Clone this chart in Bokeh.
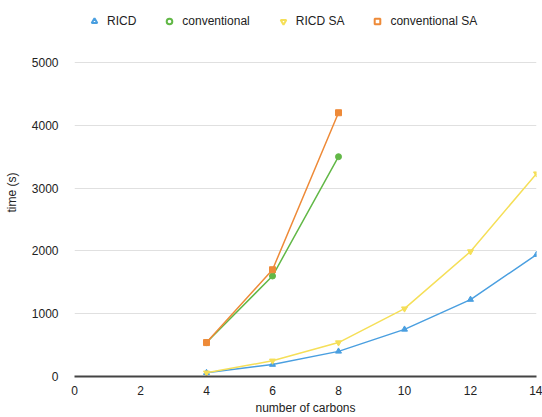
from bokeh.plotting import figure
from bokeh.models import Legend, LegendItem, Range1d, FixedTicker, ColumnDataSource
from bokeh.embed import file_html
from bokeh.resources import INLINE

carbons_ricd = [4, 6, 8, 10, 12, 14]
ricd = [60, 190, 400, 750, 1225, 1940]
ricd_sa = [60, 250, 540, 1080, 1990, 3230]
carbons_conv = [4, 6, 8]
conventional = [540, 1600, 3500]
conventional_sa = [540, 1700, 4200]

x_ticks = [0, 2, 4, 6, 8, 10, 12, 14]
y_ticks = [0, 1000, 2000, 3000, 4000, 5000]

FONT = "Liberation Sans"

W, H = 542, 417
LEFT, RIGHT, TOP, BOTTOM = 74, 6, 8, 41
# frame extends above the 5000 line so the legend row fits inside it
y_top_px = 62 - TOP          # pixels between frame top and the 5000 gridline
span_px = (H - BOTTOM) - 62  # pixels between 0 and 5000
y_end = 5000 + 5000 * y_top_px / span_px

p = figure(width=W, height=H, output_backend="svg", toolbar_location=None,
           x_range=Range1d(0, 14), y_range=Range1d(0, y_end),
           min_border_left=LEFT, min_border_right=RIGHT, min_border_top=TOP,
           min_border_bottom=BOTTOM)
p.outline_line_color = None
p.background_fill_color = "white"
p.border_fill_color = "white"

series = [
    ("RICD", carbons_ricd, ricd, "#4a9fe0", "triangle"),
    ("conventional", carbons_conv, conventional, "#62b847", "circle"),
    ("RICD SA", carbons_ricd, ricd_sa, "#f5df58", "inverted_triangle"),
    ("conventional SA", carbons_conv, conventional_sa, "#ee8a38", "square"),
]

items = []
for name, xs, ys, color, marker in series:
    src = ColumnDataSource(dict(x=xs, y=ys))
    p.line("x", "y", source=src, line_color=color, line_width=1.5)
    p.scatter("x", "y", source=src, marker=marker, size=6, fill_color=color, line_color=color)
    dsrc = ColumnDataSource(dict(x=[-10], y=[-10]))
    dummy = p.scatter("x", "y", source=dsrc, marker=marker, size=7, fill_color="white",
                      line_color=color, line_width=2)
    items.append(LegendItem(label=name, renderers=[dummy]))

frame_h = H - BOTTOM - TOP
legend = Legend(items=items, orientation="horizontal", location=(13, frame_h - 20),
                label_text_font=FONT, label_text_font_size="12px", label_text_color="#222222",
                border_line_color=None, background_fill_alpha=0,
                glyph_width=14, glyph_height=14, spacing=26, label_standoff=6,
                padding=2, margin=0, label_height=14)
p.add_layout(legend)

p.xaxis.ticker = FixedTicker(ticks=x_ticks)
p.yaxis.ticker = FixedTicker(ticks=y_ticks)
for ax in (p.xaxis, p.yaxis):
    ax.major_tick_line_color = None
    ax.minor_tick_line_color = None
    ax.major_label_text_font = FONT
    ax.major_label_text_font_size = "12px"
    ax.major_label_text_color = "#222222"
    ax.axis_label_text_font = FONT
    ax.axis_label_text_font_size = "12px"
    ax.axis_label_text_font_style = "normal"
    ax.axis_label_text_color = "#222222"
p.xaxis.axis_line_color = "#444444"
p.xaxis.axis_line_width = 2
p.yaxis.axis_line_color = None
p.xaxis.axis_label = "number of carbons"
p.yaxis.axis_label = "time (s)"
p.xaxis.major_label_standoff = 3
p.yaxis.major_label_standoff = 10
p.xaxis.axis_label_standoff = 3
p.yaxis.axis_label_standoff = 10

p.xgrid.grid_line_color = None
p.ygrid.grid_line_color = "#e0e0e0"

open("out.html", "w").write(file_html(p, INLINE))
